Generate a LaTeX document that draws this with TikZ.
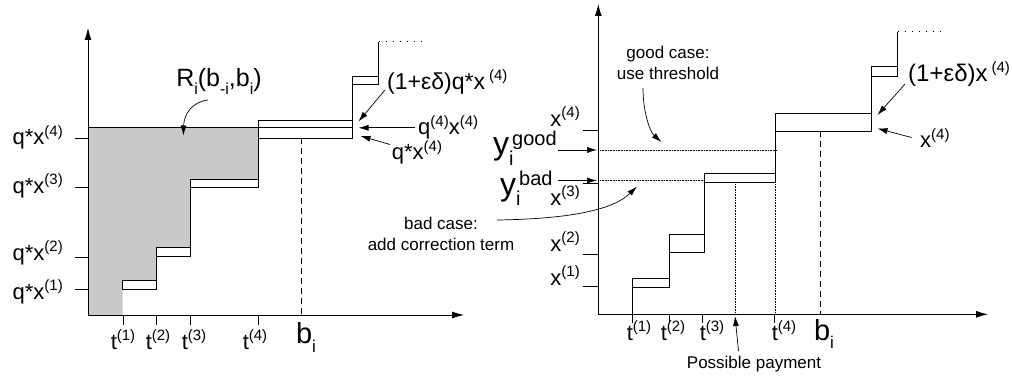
\documentclass[tikz,border=0pt]{standalone}
\usepackage{fontspec}
\setmainfont{Liberation Sans}
\usepackage{xcolor}
\usetikzlibrary{arrows.meta}

\definecolor{regiongrey}{RGB}{200,201,203}
% raised / lowered small text
\newcommand{\sps}[2][15]{\raisebox{.4em}{\fontsize{#1}{#1}\selectfont #2}}
\newcommand{\sbs}[2][16]{\raisebox{-.3em}{\fontsize{#1}{#1}\selectfont #2}}
\newcommand{\subsup}[2]{\raisebox{-.32em}{\rlap{\fontsize{20}{20}\selectfont #1}}%
  \raisebox{.3em}{\fontsize{20}{20}\selectfont\hspace{3pt}#2}}

\begin{document}
\begin{tikzpicture}[x=1pt, y=-1pt,
  axis/.style={line width=.8pt, -{Latex[length=12pt,width=7pt]}},
  stair/.style={line width=.7pt},
  tick/.style={line width=.6pt},
  guide/.style={densely dotted, line width=.6pt},
  bline/.style={dash pattern=on 6pt off 4pt, line width=.7pt},
  pointer/.style={line width=.7pt, -{Latex[length=10pt,width=6pt]}},
  lbl/.style={inner sep=0pt, font=\fontsize{22}{22}\selectfont},
  note/.style={inner sep=0pt, font=\fontsize{17}{21}\selectfont, align=center}]
\useasboundingbox (0,0) rectangle (1012,377);

% ---------- left panel ----------
\fill[regiongrey] (88,315) -- (88,127.3) -- (258.7,127.3) -- (258.7,179) -- (190.7,179)
  -- (190.7,247) -- (156.7,247) -- (156.7,280.7) -- (122.7,280.7) -- (122.7,315) -- cycle;
\foreach \xa/\xb/\ya/\yb in {122.7/156.7/280.7/289.3, 156.7/190.7/247/256.5,
    190.7/258.7/179/187.3, 258.7/352.7/120.7/138.3, 352.7/378.7/76.7/84.7}
  \draw[stair] (\xa,\ya) rectangle (\xb,\yb);
\draw[stair] (88,127.3) -- (352.7,127.3);
\foreach \xx/\ya/\yb in {156.7/289.3/247, 190.7/256.5/179, 258.7/187.3/120.7,
    352.7/138.3/76.7, 378.7/84.7/41.7}
  \draw[stair] (\xx,\ya) -- (\xx,\yb);
\draw[guide, dash pattern=on 1pt off 6pt] (378.7,41.7) -- (422,41.7);
\draw[bline] (301.7,138.3) -- (301.7,315);
\draw[axis] (88,315) -- (88,28);
\draw[axis] (88,315) -- (464,315);
\foreach \yy in {289.3,257.3,187.3,138.3} \draw[tick] (75,\yy) -- (88,\yy);
\foreach \xx in {123.3,156.7,190,258.3} \draw[tick] (\xx,315) -- (\xx,325);

\node[lbl, anchor=base east] (lq4) at (63,145) {q*x\sps{(4)}};
\node[lbl, anchor=base east] (lq3) at (63,193.3) {q*x\sps{(3)}};
\node[lbl, anchor=base east] (lq2) at (63,260) {q*x\sps{(2)}};
\node[lbl, anchor=base east] (lq1) at (63,299) {q*x\sps{(1)}};
\node[lbl, anchor=base] (lt1) at (123,349) {t\sps{(1)}};
\node[lbl, anchor=base] (lt2) at (158,349) {t\sps{(2)}};
\node[lbl, anchor=base] (lt3) at (194,349) {t\sps{(3)}};
\node[lbl, anchor=base] (lt4) at (255,349) {t\sps{(4)}};
\node[lbl, anchor=base, font=\fontsize{29}{29}\selectfont] (lbi) at (306,343.5) {b\sbs[17]{i}};

\node[lbl, anchor=base, font=\fontsize{25}{25}\selectfont] (rev) at (219,86.7)
  {R\sbs{i}(b\sbs{-i},b\sbs{i})};
\coordinate (revfrom) at (208,100);
\coordinate (revto) at (183.3,135.5);
\draw[pointer] (revfrom) .. controls (192,102) and (184,114) .. (revto);

\node[lbl, anchor=base west, font=\fontsize{23}{23}\selectfont] (lup) at (387,90)
  {(1+εδ)q*x\hspace{4pt}\sps{(4)}};
\node[lbl, anchor=base west] (lqq) at (418,135) {q\sps{(4)}x\sps{(4)}};
\node[lbl, anchor=base west] (lqs) at (391.7,160) {q*x\sps{(4)}};
\coordinate (lupfrom) at (385,90);
\coordinate (lupto) at (358.5,121.5);
\coordinate (lqqfrom) at (415,127.8);
\coordinate (lqqto) at (358.5,127.8);
\coordinate (lqsfrom) at (390,144.5);
\coordinate (lqsto) at (360.5,136);
\draw[pointer] (lupfrom) -- (lupto);
\draw[pointer] (lqqfrom) -- (lqqto);
\draw[pointer] (lqsfrom) -- (lqsto);

% ---------- right panel ----------
\foreach \xa/\xb/\ya/\yb in {632.7/669.3/278.3/287.3, 669.3/704/234.3/252.3,
    704/775/173.3/182.3, 775/871.7/113.3/131, 871.7/897.7/66.7/76}
  \draw[stair] (\xa,\ya) rectangle (\xb,\yb);
\foreach \xx/\ya/\yb in {632.7/314.3/278.3, 669.3/287.3/234.3, 704/252.3/173.3,
    775/182.3/113.3, 871.7/131/66.7, 897.7/76/31.7}
  \draw[stair] (\xx,\ya) -- (\xx,\yb);
\draw[guide, dash pattern=on 1pt off 6pt] (897.7,31.7) -- (942,31.7);
\draw[guide] (598.3,150) -- (776.7,150);
\draw[guide] (598.3,180.5) -- (704,180.5);
\draw[guide] (735.7,182.3) -- (735.7,314.3);
\draw[guide] (775,182.3) -- (775,314.3);
\draw[bline] (820,131) -- (820,314.3);
\draw[axis] (598.3,314.3) -- (598.3,4);
\draw[axis] (598.3,314.3) -- (988,314.3);
\foreach \yy in {130,183,254,286.7} \draw[tick] (582.7,\yy) -- (598.3,\yy);
\foreach \xx in {632.7,669.3,702.7,774.3} \draw[tick] (\xx,314.3) -- (\xx,323);

\node[lbl, anchor=base east] (rx4) at (580,126.7) {x\sps{(4)}};
\node[lbl, anchor=base east] (rx3) at (580,205) {x\sps{(3)}};
\node[lbl, anchor=base east] (rx2) at (580,251.7) {x\sps{(2)}};
\node[lbl, anchor=base east] (rx1) at (580,285) {x\sps{(1)}};
\node[lbl, anchor=base] (rt1) at (639,340) {t\sps{(1)}};
\node[lbl, anchor=base] (rt2) at (673,340) {t\sps{(2)}};
\node[lbl, anchor=base] (rt3) at (712,340) {t\sps{(3)}};
\node[lbl, anchor=base] (rt4) at (784,340) {t\sps{(4)}};
\node[lbl, anchor=base, font=\fontsize{29}{29}\selectfont] (rbi) at (824,340) {b\sbs[17]{i}};

\node[lbl, anchor=base west, font=\fontsize{32}{32}\selectfont] (ygood) at (493,155)
  {y\subsup{i}{good}};
\node[lbl, anchor=base west, font=\fontsize{32}{32}\selectfont] (ybad) at (500,195)
  {y\subsup{i}{bad}};
\coordinate (ygfrom) at (558,150);
\coordinate (ygto) at (597,150);
\coordinate (ybfrom) at (558,180.5);
\coordinate (ybto) at (597,180.5);
\draw[pointer] (ygfrom) -- (ygto);
\draw[pointer] (ybfrom) -- (ybto);

\node[note] (good) at (668,63) {good case:\\use threshold};
\coordinate (goodfrom) at (643,88);
\coordinate (goodto) at (661.5,142);
\draw[pointer] (goodfrom) .. controls (643,112) and (650,132) .. (goodto);

\node[note] (bad) at (441,234) {bad case:\\add correction term};
\coordinate (badfrom) at (497,220);
\coordinate (badto) at (637,186.5);
\draw[pointer] (badfrom) .. controls (565,219) and (612,211) .. (badto);

\node[note, anchor=base] (pay) at (754,368) {Possible payment};
\coordinate (payfrom) at (738.5,351);
\coordinate (payto) at (735,316);
\draw[pointer] (payfrom) -- (payto);

\node[lbl, anchor=base west, font=\fontsize{24}{24}\selectfont] (rup) at (908,81.7)
  {(1+εδ)x\hspace{4pt}\sps{(4)}};
\node[lbl, anchor=base west] (rxs) at (920,148) {x\sps{(4)}};
\coordinate (rupfrom) at (905,84);
\coordinate (rupto) at (877.5,115);
\coordinate (rxsfrom) at (911.5,137.5);
\coordinate (rxsto) at (877.5,128.5);
\draw[pointer] (rupfrom) -- (rupto);
\draw[pointer] (rxsfrom) -- (rxsto);
\end{tikzpicture}
\end{document}
